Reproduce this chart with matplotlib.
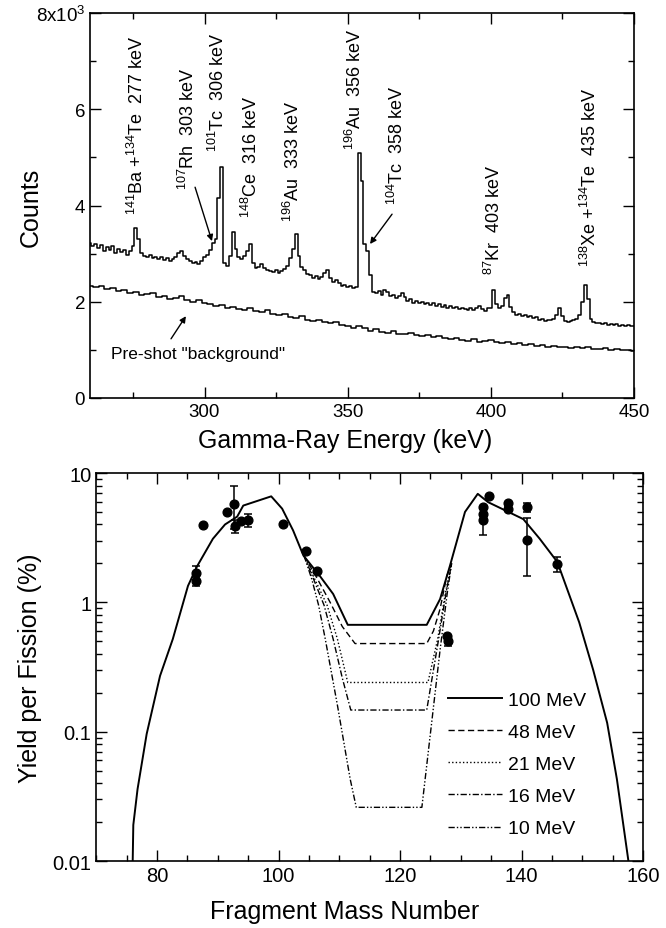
import numpy as np
import matplotlib
matplotlib.use('Agg')
import matplotlib.pyplot as plt
from matplotlib.ticker import MultipleLocator, LogLocator, NullFormatter

plt.rcParams['font.family'] = ['Liberation Sans', 'DejaVu Sans']
plt.rcParams['mathtext.fontset'] = 'custom'
plt.rcParams['mathtext.rm'] = 'Liberation Sans'
plt.rcParams['mathtext.it'] = 'Liberation Sans:italic'
plt.rcParams['mathtext.bf'] = 'Liberation Sans:bold'
plt.rcParams['mathtext.sf'] = 'Liberation Sans'

# ---------------- Top panel data: gamma spectrum (counts, x1000) ----------------
energy_start, energy_stop = 260, 450
spectrum_counts_k = [
    3.22, 3.15, 3.20, 3.12, 3.18, 3.05, 3.14, 3.08, 3.16, 3.02,
    3.10, 3.04, 3.07, 2.98, 3.05, 3.15, 3.53, 3.30, 3.02, 2.95,
    2.92, 2.98, 2.90, 2.94, 2.88, 2.93, 2.86, 2.90, 2.84, 2.88,
    2.92, 3.02, 3.05, 2.95, 2.88, 2.85, 2.80, 2.83, 2.78, 2.85,
    2.92, 2.98, 3.08, 3.22, 3.30, 4.15, 4.80, 2.80, 2.75, 2.95,
    3.45, 3.10, 2.92, 2.88, 2.95, 3.05, 3.20, 2.80, 2.70, 2.72,
    2.78, 2.70, 2.66, 2.64, 2.62, 2.66, 2.60, 2.63, 2.68, 2.75,
    2.90, 3.10, 3.40, 2.95, 2.72, 2.66, 2.58, 2.55, 2.50, 2.54,
    2.48, 2.52, 2.60, 2.65, 2.50, 2.42, 2.45, 2.38, 2.32, 2.35,
    2.30, 2.32, 2.28, 2.30, 5.10, 4.50, 3.20, 3.05, 2.55, 2.20,
    2.18, 2.22, 2.15, 2.25, 2.20, 2.12, 2.15, 2.08, 2.12, 2.18,
    2.10, 2.02, 2.05, 1.98, 2.02, 1.97, 2.00, 1.96, 1.98, 1.94,
    1.97, 1.92, 1.95, 1.90, 1.93, 1.88, 1.91, 1.86, 1.89, 1.84,
    1.88, 1.85, 1.82, 1.86, 1.83, 1.88, 1.92, 1.85, 1.80, 1.86,
    1.88, 2.25, 1.95, 1.88, 1.92, 2.08, 2.15, 1.90, 1.78, 1.72,
    1.75, 1.70, 1.72, 1.68, 1.70, 1.66, 1.68, 1.62, 1.64, 1.60,
    1.63, 1.62, 1.65, 1.72, 1.88, 1.70, 1.60, 1.58, 1.60, 1.62,
    1.65, 1.72, 2.00, 2.35, 2.05, 1.65, 1.58, 1.55, 1.56, 1.53,
    1.55, 1.52, 1.54, 1.51, 1.53, 1.50, 1.52, 1.50, 1.51, 1.49,
    1.50,
]
background_counts_k = [
    2.33, 2.30, 2.32, 2.26, 2.28, 2.22, 2.24, 2.18, 2.21, 2.14,
    2.16, 2.18, 2.10, 2.12, 2.05, 2.08, 2.12, 2.03, 2.00, 2.04,
    1.98, 1.95, 1.92, 1.94, 1.88, 1.90, 1.85, 1.82, 1.86, 1.80,
    1.78, 1.82, 1.74, 1.72, 1.75, 1.68, 1.66, 1.70, 1.62, 1.60,
    1.63, 1.57, 1.55, 1.58, 1.52, 1.50, 1.46, 1.49, 1.45, 1.40,
    1.43, 1.38, 1.36, 1.40, 1.34, 1.32, 1.35, 1.30, 1.28, 1.31,
    1.26, 1.28, 1.24, 1.22, 1.25, 1.21, 1.19, 1.22, 1.17, 1.18,
    1.20, 1.16, 1.14, 1.17, 1.12, 1.14, 1.10, 1.12, 1.08, 1.10,
    1.07, 1.09, 1.05, 1.07, 1.04, 1.06, 1.03, 1.05, 1.02, 1.01,
    1.03, 1.00, 1.02, 0.99, 1.00, 0.98,
]
peak_labels = [
    r'$^{141}$Ba +$^{134}$Te  277 keV',
    r'$^{107}$Rh  303 keV',
    r'$^{101}$Tc  306 keV',
    r'$^{148}$Ce  316 keV',
    r'$^{196}$Au  333 keV',
    r'$^{196}$Au  356 keV',
    r'$^{104}$Tc  358 keV',
    r'$^{87}$Kr  403 keV',
    r'$^{138}$Xe +$^{134}$Te  435 keV',
]
# label centres (energy, counts)
peak_label_pos = [(276.4, 5690), (294.2, 5610), (304.7, 6370), (316.2, 5040),
                  (330.9, 4950), (352.6, 6440), (367.2, 5280), (401.1, 3730),
                  (434.6, 4620)]

# ---------------- Bottom panel data: mass yields ----------------
model_100_A = [76.0, 76.1, 76.8, 78.3, 80.5, 82.6, 85.1, 86.6, 89.2, 91.2, 93.2, 94.2,
               98.8, 100.6, 102.4, 104.1, 106.8, 109.0, 111.4, 124.4, 126.6, 128.2,
               130.7, 132.8, 134.5, 140.3, 143.0, 145.9, 149.5, 151.8, 154.1, 155.7, 157.6]
model_100_Y = [0.01, 0.019, 0.036, 0.096, 0.27, 0.52, 1.34, 1.9, 3.1, 4.0, 4.6, 5.6,
               6.6, 5.3, 3.6, 2.3, 1.6, 1.16, 0.67, 0.67, 1.06, 1.9,
               5.0, 6.9, 5.95, 4.4, 3.1, 2.05, 0.7, 0.3, 0.117, 0.043, 0.01]
model_48_A = [104.2, 106.3, 108.5, 110.5, 112.6, 124.4, 125.5, 126.6, 127.7, 128.5]
model_48_Y = [2.3, 1.55, 1.0, 0.65, 0.48, 0.48, 0.6, 0.89, 1.6, 2.0]
model_21_A = [104.2, 106.0, 108.0, 109.7, 111.4, 124.6, 126.2, 127.5, 128.5]
model_21_Y = [2.3, 1.5, 0.95, 0.52, 0.24, 0.24, 0.52, 1.2, 2.0]
model_16_A = [104.2, 105.8, 107.5, 109.0, 110.5, 111.9, 124.4, 126.3, 127.6, 128.5]
model_16_Y = [2.3, 1.5, 0.95, 0.52, 0.26, 0.147, 0.147, 0.5, 1.2, 2.0]
model_10_A = [104.2, 105.5, 106.6, 107.7, 109.7, 111.8, 112.8, 123.6, 126.6, 127.8, 128.5]
model_10_Y = [2.3, 1.5, 0.95, 0.52, 0.16, 0.043, 0.026, 0.026, 0.43, 1.2, 2.0]

meas_A = [86.5, 86.5, 87.6, 91.5, 92.7, 92.8, 93.8, 95.0, 100.7, 104.6, 106.4,
          127.7, 127.9, 133.6, 133.6, 133.6, 134.6, 137.8, 137.8, 140.9, 140.9, 145.9]
meas_Y = [1.70, 1.45, 3.96, 5.0, 5.8, 3.9, 4.25, 4.3, 4.0, 2.5, 1.74,
          0.55, 0.50, 5.5, 4.8, 4.3, 6.6, 5.9, 5.3, 5.46, 3.05, 1.98]
meas_err = [0.2, 0.12, 0.0, 0.0, 2.1, 0.45, 0.0, 0.5, 0.0, 0.0, 0.0,
            0.0, 0.04, 0.0, 0.0, 1.0, 0.0, 0.0, 0.2, 0.45, 1.45, 0.25]

# ---------------- Figure ----------------
W, H = 666, 929
fig = plt.figure(figsize=(W / 100, H / 100), dpi=100)

ax1 = fig.add_axes([90 / W, 1 - 399 / H, 544 / W, 385 / H])
E = np.arange(energy_start, energy_stop + 1, 1)
Eb = np.arange(energy_start, energy_stop + 1, 2)
ax1.step(E, np.array(spectrum_counts_k) * 1000, where='mid', color='k', lw=1.1)
ax1.step(Eb, np.array(background_counts_k) * 1000, where='mid', color='k', lw=1.1)
ax1.set_xlim(260, 450)
ax1.set_ylim(0, 8000)
ax1.xaxis.set_major_locator(MultipleLocator(50))
ax1.xaxis.set_minor_locator(MultipleLocator(25))
ax1.yaxis.set_major_locator(MultipleLocator(2000))
ax1.yaxis.set_minor_locator(MultipleLocator(1000))
ax1.set_yticks([0, 2000, 4000, 6000, 8000])
ax1.set_yticklabels(['0', '2', '4', '6', r'8x10$^3$'])
ax1.tick_params(which='both', direction='in', top=True, right=True, labelsize=13.5)
ax1.tick_params(which='major', length=8, width=1)
ax1.tick_params(which='minor', length=4, width=1)
for s in ax1.spines.values():
    s.set_linewidth(1.2)

for lab, (x, y) in zip(peak_labels, peak_label_pos):
    ax1.text(x, y, lab, rotation=90, ha='center', va='center', fontsize=13)

arrow = dict(arrowstyle='-|>', color='k', lw=1.0, mutation_scale=9, shrinkA=0, shrinkB=0)
ax1.annotate('', xy=(302.6, 3260), xytext=(296.7, 4380), arrowprops=arrow)
ax1.annotate('', xy=(357.8, 3200), xytext=(365.5, 3820), arrowprops=arrow)
ax1.annotate('', xy=(293.5, 1700), xytext=(288.3, 1230), arrowprops=arrow)
ax1.text(267.5, 920, 'Pre-shot "background"', fontsize=12.5, ha='left', va='center')

fig.text(31 / W, 1 - 207 / H, 'Counts', rotation=90, ha='center', va='center', fontsize=18)
fig.text(345 / W, 1 - 441 / H, 'Gamma-Ray Energy (keV)', ha='center', va='center', fontsize=18)

# ---------------- Bottom panel ----------------
ax2 = fig.add_axes([96.25 / W, 1 - 862 / H, 546.75 / W, 388 / H])
ax2.set_yscale('log')
ax2.plot(model_100_A, model_100_Y, color='k', lw=1.4, label='100 MeV')
ax2.plot(model_48_A, model_48_Y, color='k', lw=1.0, dashes=(4.5, 2.5), label='48 MeV')
ax2.plot(model_21_A, model_21_Y, color='k', lw=1.0, dashes=(1, 1.6), label='21 MeV')
ax2.plot(model_16_A, model_16_Y, color='k', lw=1.0, dashes=(4.5, 1.6, 1, 1.6), label='16 MeV')
ax2.plot(model_10_A, model_10_Y, color='k', lw=1.0,
         dashes=(4.5, 1.5, 1, 1.5, 1, 1.5), label='10 MeV')
ax2.errorbar(meas_A, meas_Y, yerr=meas_err, fmt='o', color='k', ms=6.3,
             capsize=2.8, elinewidth=1.1, capthick=1.1)
ax2.set_xlim(70, 160)
ax2.set_ylim(0.01, 10)
ax2.xaxis.set_major_locator(MultipleLocator(20))
ax2.xaxis.set_minor_locator(MultipleLocator(5))
ax2.set_yticks([0.01, 0.1, 1, 10])
ax2.set_yticklabels(['0.01', '0.1', '1', '10'])
ax2.yaxis.set_minor_locator(LogLocator(base=10, subs=np.arange(2, 10)))
ax2.yaxis.set_minor_formatter(NullFormatter())
ax2.tick_params(which='both', direction='in', top=True, right=True, labelsize=14.5)
ax2.tick_params(which='major', length=8, width=1)
ax2.tick_params(which='minor', length=4, width=1)
for s in ax2.spines.values():
    s.set_linewidth(1.2)

ax2.legend(loc='upper left', bbox_to_anchor=(448 / W, 1 - 692 / H),
           bbox_transform=fig.transFigure, frameon=False, fontsize=14,
           handlelength=2.8, handletextpad=0.3, labelspacing=0.75,
           borderpad=0, borderaxespad=0)

fig.text(30 / W, 1 - 668 / H, 'Yield per Fission (%)', rotation=90, ha='center', va='center', fontsize=18)
fig.text(345 / W, 1 - 912 / H, 'Fragment Mass Number', ha='center', va='center', fontsize=18)

fig.savefig('out.png', dpi=100)
